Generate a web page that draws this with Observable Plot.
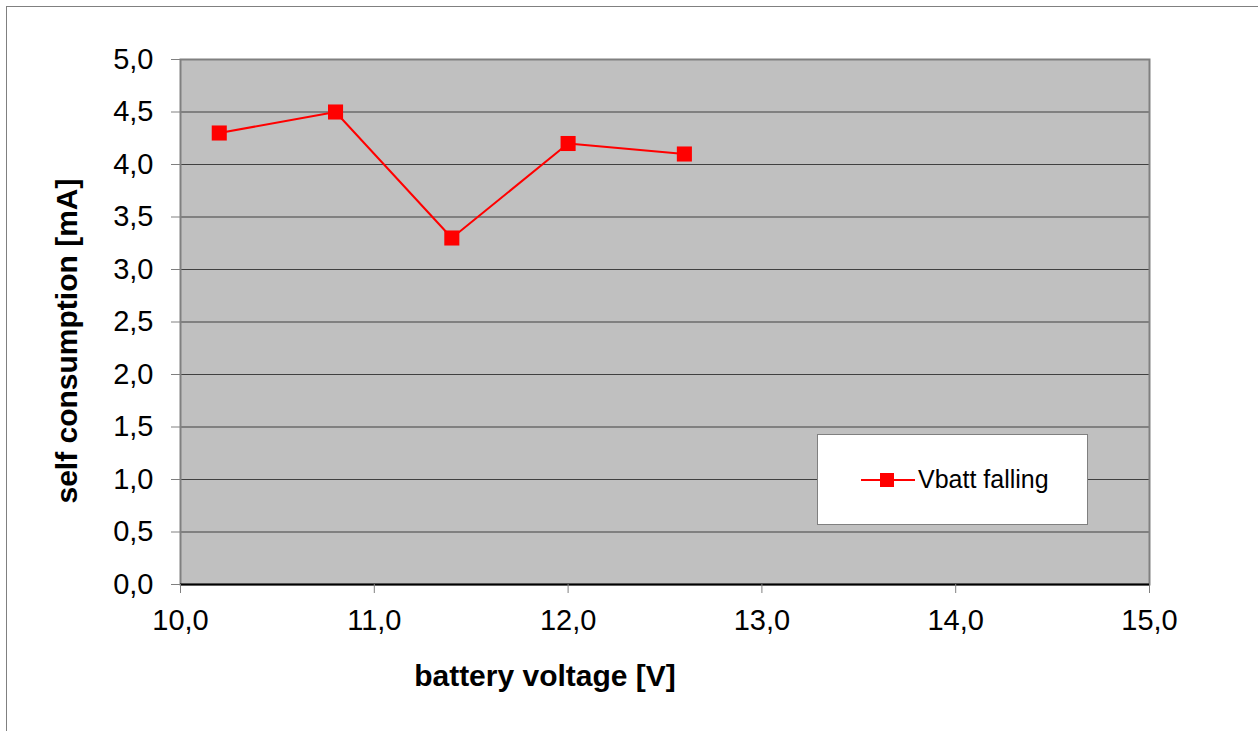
<!DOCTYPE html>
<html>
<head>
<meta charset="utf-8">
<script src="https://cdn.jsdelivr.net/npm/d3@7"></script>
<script src="https://cdn.jsdelivr.net/npm/@observablehq/plot@0.6"></script>
<style>
  html, body { margin: 0; padding: 0; background: #fff; }
  #wrap { position: relative; width: 1258px; height: 731px; overflow: hidden; font-family: "Liberation Sans", Arial, sans-serif; }
  #outer { position: absolute; left: 6px; top: 6px; width: 1300px; height: 800px; border: 1px solid #808080; box-sizing: border-box; }
  #chart { position: absolute; left: 0; top: 0; }
  #chart svg text { font-size: 29px !important; fill: #000; }
  .title { position: absolute; font-weight: bold; font-size: 30px; color: #000; white-space: nowrap; }
  #xtitle { left: 545px; top: 676px; transform: translate(-50%, -50%); }
  #ytitle { left: 67px; top: 341px; transform: translate(-50%, -50%) rotate(-90deg); }
  #legend { position: absolute; left: 817px; top: 434px; width: 271px; height: 91px; background: #fff; border: 1px solid #808080; box-sizing: border-box; }
  #legend svg { position: absolute; left: 43px; top: 35px; }
  #legend span { position: absolute; left: 100px; top: 44px; transform: translateY(-50%); font-size: 25px; white-space: nowrap; }
</style>
</head>
<body>
<div id="wrap">
  <div id="outer"></div>
  <div id="chart"></div>
  <div class="title" id="xtitle">battery voltage [V]</div>
  <div class="title" id="ytitle">self consumption [mA]</div>
  <div id="legend">
    <svg width="54" height="20"><line x1="0" y1="10" x2="54" y2="10" stroke="#ff0000" stroke-width="2"/><rect x="19" y="3" width="14" height="14" fill="#ff0000"/></svg>
    <span>Vbatt falling</span>
  </div>
</div>
<script>
const seriesName = "Vbatt falling";
const voltage = [10.2, 10.8, 11.4, 12.0, 12.6];
const consumption = [4.3, 4.5, 3.3, 4.2, 4.1];
const xTicks = [10, 11, 12, 13, 14, 15];
const yTicks = [0, 0.5, 1, 1.5, 2, 2.5, 3, 3.5, 4, 4.5, 5];

const data = voltage.map((v, i) => ({ v, c: consumption[i], s: seriesName }));
const fmt = d => d.toFixed(1).replace(".", ",");

const chart = Plot.plot({
  width: 1258,
  height: 731,
  marginLeft: 180,
  marginRight: 109,
  marginTop: 59,
  marginBottom: 147,
  style: { fontFamily: "'Liberation Sans', Arial, sans-serif", fontSize: "29px", color: "#000", background: "transparent" },
  x: { domain: [10, 15], ticks: xTicks, tickFormat: fmt, label: null },
  y: { domain: [0, 5], ticks: yTicks, tickFormat: fmt, label: null },
  marks: [
    Plot.frame({ fill: "#c0c0c0", stroke: null }),
    Plot.gridY(yTicks.filter(t => t > 0 && t < 5), { stroke: "#404040", strokeOpacity: 1, strokeWidth: 1 }),
    Plot.frame({ stroke: "#808080", strokeWidth: 2, fill: null }),
    Plot.ruleY([0], { stroke: "#000", strokeWidth: 2 }),
    Plot.axisY({ ticks: yTicks, tickFormat: fmt, tickSize: 9, tickPadding: 18, stroke: "#808080", label: null }),
    Plot.axisX({ ticks: xTicks, tickFormat: fmt, tickSize: 9, tickPadding: 16, stroke: "#808080", label: null }),
    Plot.line(data, { x: "v", y: "c", stroke: "#ff0000", strokeWidth: 2 }),
    Plot.dot(data, { x: "v", y: "c", symbol: "square", r: 8.5, fill: "#ff0000", stroke: null })
  ]
});
document.getElementById("chart").appendChild(chart);
</script>
</body>
</html>
